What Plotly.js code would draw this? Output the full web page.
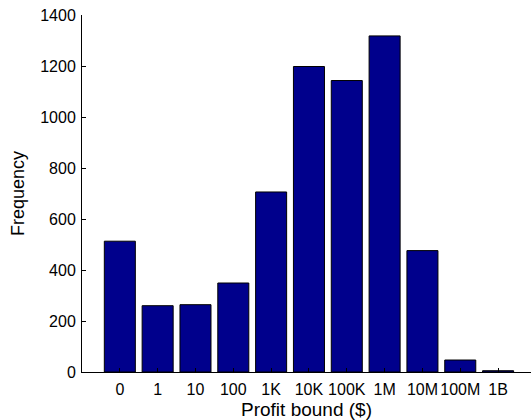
<!DOCTYPE html>
<html>
<head>
<meta charset="utf-8">
<script src="https://cdn.plot.ly/plotly-3.0.1.min.js"></script>
<style>html,body{margin:0;padding:0;background:#fff;}#chart{width:531px;height:420px;}</style>
</head>
<body>
<div id="chart"></div>
<script>
const categories = ["0", "1", "10", "100", "1K", "10K", "100K", "1M", "10M", "100M", "1B"];
const positions = [1, 2, 3, 4, 5, 6, 7, 8, 9, 10, 11];
const frequency = [513, 260, 264, 349, 706, 1198, 1143, 1318, 476, 47, 5];
const yTicks = [0, 200, 400, 600, 800, 1000, 1200, 1400];

const trace = {
  type: "bar",
  x: positions,
  y: frequency,
  width: 0.82,
  marker: {color: "rgb(0,0,140)", line: {color: "#000", width: 1}},
  hoverinfo: "skip"
};

const layout = {
  width: 531, height: 420,
  margin: {l: 82, r: 0, t: 15, b: 48, pad: 0},
  paper_bgcolor: "#fff", plot_bgcolor: "#fff",
  showlegend: false,
  font: {family: "Liberation Sans, Arial, sans-serif", color: "#000", size: 16},
  xaxis: {
    range: [0, 11.87],
    tickmode: "array", tickvals: positions, ticktext: categories,
    ticks: "inside", ticklen: 4, tickcolor: "#000", tickwidth: 1,
    ticklabelstandoff: 3,
    showline: true, linecolor: "#000", linewidth: 1,
    showgrid: false, zeroline: false,
    tickfont: {size: 16},
    title: {text: "Profit bound ($)", font: {size: 19}, standoff: 6}
  },
  yaxis: {
    range: [0, 1400],
    tickmode: "array", tickvals: yTicks, ticktext: yTicks.map(String),
    ticks: "inside", ticklen: 4, tickcolor: "#000", tickwidth: 1,
    ticklabelstandoff: 2,
    showline: true, linecolor: "#000", linewidth: 1,
    showgrid: false, zeroline: false,
    tickfont: {size: 16},
    title: {text: "Frequency", font: {size: 18}, standoff: 10}
  }
};

Plotly.newPlot("chart", [trace], layout, {displayModeBar: false, staticPlot: true});
</script>
</body>
</html>
